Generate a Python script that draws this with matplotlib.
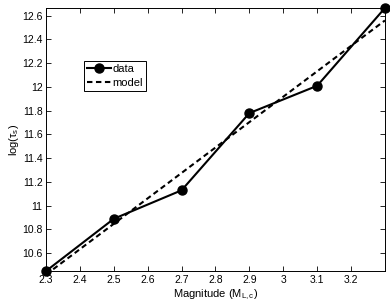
import matplotlib
matplotlib.use("Agg")
import matplotlib.pyplot as plt

# data
magnitude = [2.3, 2.5, 2.7, 2.9, 3.1, 3.3]
log_tau = [10.45, 10.89, 11.13, 11.78, 12.01, 12.665]

# linear model end points
model_mag = [2.3, 3.3]
model_log_tau = [10.42, 12.56]

x_ticks = [2.3, 2.4, 2.5, 2.6, 2.7, 2.8, 2.9, 3.0, 3.1, 3.2]
x_tick_labels = ["2.3", "2.4", "2.5", "2.6", "2.7", "2.8", "2.9", "3", "3.1", "3.2"]
y_ticks = [10.6, 10.8, 11.0, 11.2, 11.4, 11.6, 11.8, 12.0, 12.2, 12.4, 12.6]
y_tick_labels = ["10.6", "10.8", "11", "11.2", "11.4", "11.6", "11.8", "12", "12.2", "12.4", "12.6"]

plt.rcParams['font.family'] = ['Liberation Sans', 'DejaVu Sans']
plt.rcParams['mathtext.fontset'] = 'custom'
plt.rcParams['mathtext.rm'] = 'Liberation Sans'
plt.rcParams['mathtext.it'] = 'Liberation Sans'

fig = plt.figure(figsize=(3.9, 3.08), dpi=100)
ax = fig.add_axes([0.118, 0.12, 0.869, 0.854])

ax.plot(magnitude, log_tau, "k-o", lw=1.5, ms=6.5, label="data", clip_on=False)
ax.plot(model_mag, model_log_tau, color="k", ls=(0, (2.6, 1.7)), lw=1.5, label="model")

# axis tight, like matlab
ax.set_xlim(min(magnitude), max(magnitude))
ax.set_ylim(min(log_tau), max(log_tau))
ax.set_xticks(x_ticks)
ax.set_xticklabels(x_tick_labels)
ax.set_yticks(y_ticks)
ax.set_yticklabels(y_tick_labels)
ax.tick_params(direction="in", top=True, right=True, labelsize=7.5,
               length=3.5, width=0.6, pad=2.5)
for s in ax.spines.values():
    s.set_linewidth(0.7)

ax.set_xlabel(r"Magnitude (M$_{\mathrm{L,c}}$)", fontsize=8, labelpad=2.5)
ax.set_ylabel(r"log($\tau_{\mathrm{s}}$)", fontsize=8)
ax.yaxis.set_label_coords(-0.074, 0.5)

leg = ax.legend(loc="upper left", bbox_to_anchor=(0.112, 0.80), fontsize=8,
                fancybox=False, framealpha=1, edgecolor="black",
                handlelength=2.1, borderpad=0.3, labelspacing=0.35,
                handletextpad=0.15, borderaxespad=0)
leg.get_frame().set_linewidth(0.7)

fig.savefig("out.png", dpi=100)
